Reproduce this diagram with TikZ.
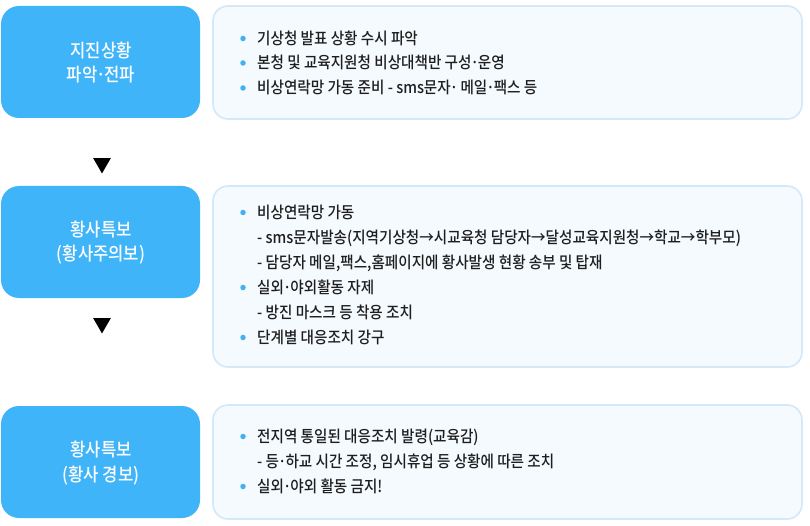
\documentclass[tikz,border=0pt]{standalone}
\usepackage{fontspec}
\setmainfont{Noto Sans CJK KR}[UprightFont={* Medium}]
\newfontfamily\narrowkr{Noto Sans CJK KR}[UprightFont={* Medium}, FakeStretch=0.9]
\usetikzlibrary{shapes.geometric}
\definecolor{stepblue}{HTML}{40B4F8}
\definecolor{panelfill}{HTML}{F5FAFE}
\definecolor{panelline}{HTML}{D4E8F8}
\definecolor{dotblue}{HTML}{45B0F0}
\definecolor{txt}{HTML}{1E1E1E}
\newcommand{\mdt}{\kern-0.06em·\kern-0.06em}
\begin{document}
\begin{tikzpicture}[x=1pt,y=-1pt,
  stepbox/.style={fill=stepblue, draw=none, rounded corners=18pt, minimum width=199pt, minimum height=112pt, inner sep=0pt},
  panel/.style={fill=panelfill, draw=panelline, line width=1.6pt, rounded corners=15pt, minimum width=589pt, inner sep=0pt},
  steptext/.style={text=white, font=\narrowkr\fontsize{18.5}{18.5}\selectfont, anchor=base, inner sep=0pt},
  itemtext/.style={text=txt, font=\narrowkr\fontsize{16.2}{16.2}\selectfont, anchor=base west, inner sep=0pt},
  itemdot/.style={circle, fill=dotblue, minimum size=5.5pt, inner sep=0pt},
  downtri/.style={regular polygon, regular polygon sides=3, shape border rotate=180, fill=black, minimum size=20.5pt, inner sep=0pt}]
\useasboundingbox[fill=white] (0,0) rectangle (810,526);

% left step boxes
\node[stepbox] (s1) at (100.5,62) {};
\node[stepbox] (s2) at (100.5,242) {};
\node[stepbox] (s3) at (100.5,462) {};
\node[steptext] (s1a) at (101,57.5) {지진상황};
\node[steptext] (s1b) at (101,82) {파악\mdt 전파};
\node[steptext] (s2a) at (101,236.5) {황사특보};
\node[steptext] (s2b) at (101,261) {(황사주의보)};
\node[steptext] (s3a) at (101,456.5) {황사특보};
\node[steptext] (s3b) at (101,481) {(황사 경보)};

% down triangles
\node[downtri] (t1) at (102,163.2) {};
\node[downtri] (t2) at (102,323.2) {};

% right panels
\node[panel, minimum height=113pt] (p1) at (507.5,62.5) {};
\node[panel, minimum height=181pt] (p2) at (507.5,276.5) {};
\node[panel, minimum height=114pt] (p3) at (507.5,462) {};

% panel 1
\node[itemdot] (d11) at (243,38.5) {};
\node[itemtext] (l11) at (257,44.5) {기상청 발표 상황 수시 파악};
\node[itemdot] (d12) at (243,63) {};
\node[itemtext] (l12) at (257,69) {본청 및 교육지원청 비상대책반 구성\mdt 운영};
\node[itemdot] (d13) at (243,88) {};
\node[itemtext] (l13) at (257,94) {비상연락망 가동 준비 - sms문자\mdt{} 메일\mdt 팩스 등};

% panel 2
\node[itemdot] (d21) at (243,212.5) {};
\node[itemtext] (l21) at (257,218.5) {비상연락망 가동};
\node[itemtext] (l22) at (257,243.5) {- sms문자발송(지역기상청→시교육청 담당자→달성교육지원청→학교→학부모)};
\node[itemtext] (l23) at (257,268.5) {- 담당자 메일,팩스,홈페이지에 황사발생 현황 송부 및 탑재};
\node[itemdot] (d22) at (243,287.5) {};
\node[itemtext] (l24) at (257,293.5) {실외\mdt 야외활동 자제};
\node[itemtext] (l25) at (257,318.5) {- 방진 마스크 등 착용 조치};
\node[itemdot] (d23) at (243,337.5) {};
\node[itemtext] (l26) at (257,343.5) {단계별 대응조치 강구};

% panel 3
\node[itemdot] (d31) at (243,436.5) {};
\node[itemtext] (l31) at (257,442.5) {전지역 통일된 대응조치 발령(교육감)};
\node[itemtext] (l32) at (257,467.5) {- 등\mdt 하교 시간 조정, 임시휴업 등 상황에 따른 조치};
\node[itemdot] (d32) at (243,486.5) {};
\node[itemtext] (l33) at (257,492.5) {실외\mdt 야외 활동 금지!};
\end{tikzpicture}
\end{document}
